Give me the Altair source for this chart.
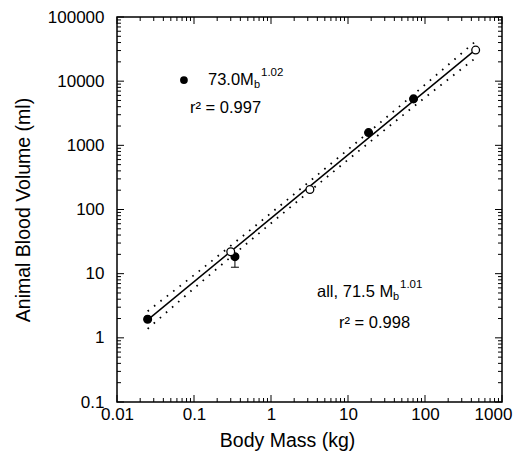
import altair as alt
import pandas as pd

# ---- data ----
filled_mass = [0.025, 0.34, 18.5, 71]
filled_vol = [1.95, 18.4, 1580, 5300]
open_mass = [0.30, 3.2, 455]
open_vol = [22, 205, 30500]
err_mass = [0.34]
err_low = [12.6]
err_high = [18.4]

fit_mass = [0.025, 455]
fit_vol = [1.9, 31000]

band_mass = [0.025, 0.1, 1, 10, 100, 455]
band_upper = [2.6, 9.5, 88, 860, 8800, 42000]
band_lower = [1.38, 5.9, 61, 595, 5550, 23000]

x_major = [0.01, 0.1, 1, 10, 100, 1000]
y_major = [0.1, 1, 10, 100, 1000, 10000, 100000]
minor_mult = [2, 3, 4, 5, 6, 7, 8, 9]

legend_dot = {"x": [0.074], "y": [10400]}
ann1 = {"x": [0.152], "y": [10400]}   # 73.0 M_b^1.02
ann1r = {"x": [0.0887], "y": [3820]}  # r2 = 0.997
ann2 = {"x": [3.96], "y": [5.18]}     # all, 71.5 M_b^1.01
ann2r = {"x": [7.64], "y": [1.70]}    # r2 = 0.998

W, H = 385, 385
FONT = "Liberation Sans"

xs = alt.Scale(type="log", domain=[0.01, 1000], nice=False)
ys = alt.Scale(type="log", domain=[0.1, 100000], nice=False)

xaxis = alt.Axis(values=x_major, format="~g", ticks=False, domain=False, grid=False,
                 labelFontSize=17, labelPadding=4, labelColor="black",
                 labelOffset={"condition": {"test": "datum.value >= 1000", "value": -9}, "value": 0},
                 title="Body Mass (kg)", titleFontSize=19.5, titleFontWeight="normal",
                 titlePadding=9, titleX=170, titleColor="black", labelFlush=False)
yaxis = alt.Axis(values=y_major, format="~g", ticks=False, domain=False, grid=False,
                 labelFontSize=17, labelPadding=13, labelColor="black",
                 title="Animal Blood Volume (ml)", titleFontSize=19.5, titleFontWeight="normal",
                 titlePadding=14, titleColor="black", labelFlush=False)


def X(f):
    return alt.X(f, scale=xs, axis=xaxis)


def Y(f):
    return alt.Y(f, scale=ys, axis=yaxis)


pts = pd.DataFrame({"m": filled_mass + open_mass,
                    "v": filled_vol + open_vol,
                    "kind": ["filled"] * len(filled_mass) + ["open"] * len(open_mass)})
fit = pd.DataFrame({"m": fit_mass, "v": fit_vol})
band = pd.DataFrame({"m": band_mass * 2, "v": band_upper + band_lower,
                     "side": ["upper"] * len(band_mass) + ["lower"] * len(band_mass)})
err = pd.DataFrame({"m": err_mass, "lo": err_low, "hi": err_high})

xminor = [d * k for d in x_major[:-1] for k in minor_mult]
yminor = [d * k for d in y_major[:-1] for k in minor_mult]
xt = pd.DataFrame({"v": x_major + xminor, "len": [7] * len(x_major) + [4] * len(xminor)})
yt = pd.DataFrame({"v": y_major + yminor, "len": [7] * len(y_major) + [4] * len(yminor)})

base_pts = alt.Chart(pts).mark_point(filled=True, size=60, shape="circle", strokeWidth=1.3,
                                     opacity=1).encode(
    x=X("m:Q"), y=Y("v:Q"),
    fill=alt.Fill("kind:N", scale=alt.Scale(domain=["filled", "open"], range=["black", "white"]), legend=None),
    stroke=alt.value("black"),
)

fit_line = alt.Chart(fit).mark_line(color="black", strokeWidth=1.5).encode(x=X("m:Q"), y=Y("v:Q"))

band_lines = alt.Chart(band).mark_line(color="black", strokeWidth=1.8, strokeDash=[1.6, 6.5],
                                       interpolate="monotone").encode(
    x=X("m:Q"), y=Y("v:Q"), detail="side:N")

err_rule = alt.Chart(err).mark_rule(color="black", strokeWidth=1).encode(
    x=X("m:Q"), y=Y("lo:Q"), y2="hi:Q")
err_cap = alt.Chart(err).mark_tick(color="black", orient="horizontal", size=8, thickness=1,
                                   opacity=1).encode(x=X("m:Q"), y=Y("lo:Q"))

# inward ticks on all four sides
t_bottom = alt.Chart(xt).mark_rule(color="black", strokeWidth=1).encode(
    x=X("v:Q"), y=alt.value(H), y2=alt.YValue(alt.expr(f"{H} - datum.len")))
t_top = alt.Chart(xt).mark_rule(color="black", strokeWidth=1).encode(
    x=X("v:Q"), y=alt.value(0), y2=alt.YValue(alt.expr("datum.len")))
t_left = alt.Chart(yt).mark_rule(color="black", strokeWidth=1).encode(
    y=Y("v:Q"), x=alt.value(0), x2=alt.XValue(alt.expr("datum.len")))
t_right = alt.Chart(yt).mark_rule(color="black", strokeWidth=1).encode(
    y=Y("v:Q"), x=alt.value(W), x2=alt.XValue(alt.expr(f"{W} - datum.len")))


def txt(d, s, size=16, dx=0, dy=0):
    return alt.Chart(pd.DataFrame(d)).mark_text(
        text=s, align="left", baseline="middle", fontSize=size, dx=dx, dy=dy,
        color="black", font=FONT).encode(x=X("x:Q"), y=Y("y:Q"))


leg = alt.Chart(pd.DataFrame(legend_dot)).mark_point(filled=True, size=60, color="black",
                                                     opacity=1).encode(x=X("x:Q"), y=Y("y:Q"))

texts = [
    txt(ann1, "73.0M", 16.5), txt(ann1, "b", 11, dx=46, dy=5), txt(ann1, "1.02", 11.5, dx=53, dy=-7),
    txt(ann1r, "r² = 0.997", 16.5),
    txt(ann2, "all, 71.5 M", 16.5), txt(ann2, "b", 11, dx=76, dy=5), txt(ann2, "1.01", 11.5, dx=83, dy=-7),
    txt(ann2r, "r² = 0.998", 16.5),
]

chart = alt.layer(
    band_lines, fit_line, err_rule, err_cap, base_pts, leg,
    t_bottom, t_top, t_left, t_right, *texts
).properties(
    width=W, height=H,
    autosize=alt.AutoSizeParams(type="none"),
    padding={"left": 109, "top": 9, "right": 12, "bottom": 50},
).configure(font=FONT).configure_view(stroke="black", strokeWidth=1.5)

chart.save("out.html", embed_options={"renderer": "svg", "actions": False})
